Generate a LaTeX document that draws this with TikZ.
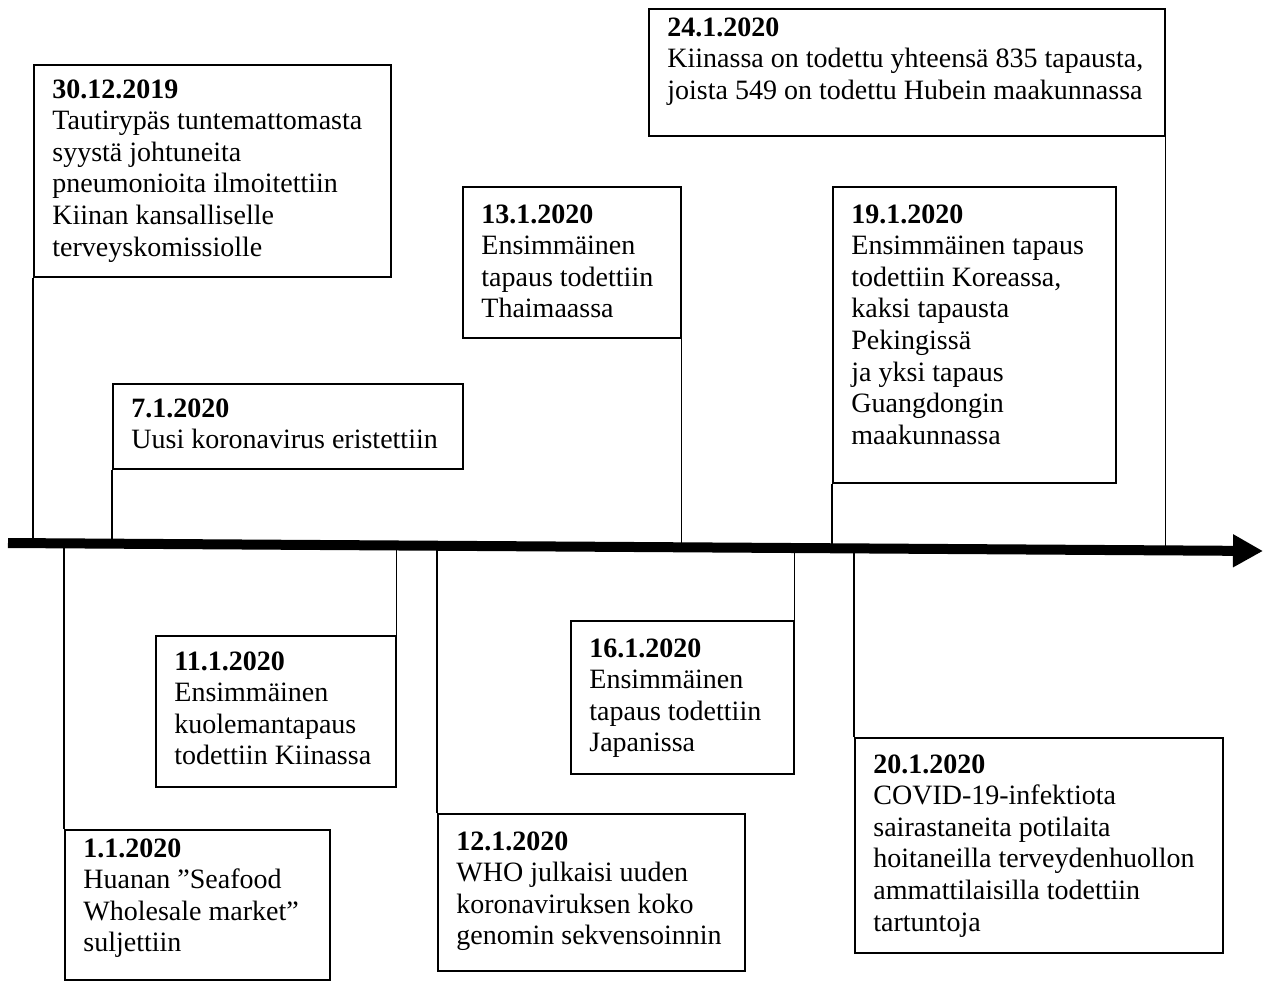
\documentclass[tikz,border=0pt]{standalone}
\usepackage{fontspec}
\setmainfont{Liberation Serif}
\usetikzlibrary{arrows.meta,calc}
\tikzset{
  evframe/.style={draw=black, line width=0.75pt, anchor=north west, inner sep=0pt, fill=white},
  evtext/.style={anchor=north west, inner sep=0pt, align=left, font=\fontsize{14}{15.8}\selectfont},
  conn/.style={draw=black, line width=0.75pt},
  axisline/.style={line width=5pt, -{Triangle[length=15pt,width=15.5pt]}}
}
\newcommand\evbox[7]{%
  \node[evframe, minimum width=#4*0.5pt, minimum height=#5*0.5pt] (#1) at (#2,#3) {};
  \node[evtext] (#1t) at ([shift={(19,#6)}]#1.north west) {#7};
}
\newcommand\axpt[2]{% name, anchor
  \coordinate (#1p) at ($(axL)!(#2)!(axR)$);
  \coordinate (#1) at (#2 |- #1p);
}
\begin{document}
\begin{tikzpicture}[x=0.5pt,y=-0.5pt]
\useasboundingbox (0,0) rectangle (1263,980);
\coordinate (axL) at (8,543);
\coordinate (axR) at (1263,551);

\evbox{b1}{33}{64}{357}{212}{15}{\textbf{30.12.2019}\\Tautirypäs tuntemattomasta\\syystä johtuneita\\pneumonioita ilmoitettiin\\Kiinan kansalliselle\\terveyskomissiolle}
\evbox{b2}{112}{383}{350}{85}{15}{\textbf{7.1.2020}\\Uusi koronavirus eristettiin}
\evbox{b3}{462}{186}{218}{151}{18}{\textbf{13.1.2020}\\Ensimmäinen\\tapaus todettiin\\Thaimaassa}
\evbox{b4}{832}{186}{283}{296}{18}{\textbf{19.1.2020}\\Ensimmäinen tapaus\\todettiin Koreassa,\\kaksi tapausta\\Pekingissä\\ja yksi tapaus\\Guangdongin\\maakunnassa}
\evbox{b5}{648}{8}{516}{127}{9}{\textbf{24.1.2020}\\Kiinassa on todettu yhteensä 835 tapausta,\\joista 549 on todettu Hubein maakunnassa}
\evbox{b6}{64}{829}{265}{150}{9}{\textbf{1.1.2020}\\Huanan ”Seafood\\Wholesale market”\\suljettiin}
\evbox{b7}{155}{635}{240}{151}{16}{\textbf{11.1.2020}\\Ensimmäinen\\kuolemantapaus\\todettiin Kiinassa}
\evbox{b8}{570}{620}{223}{153}{18}{\textbf{16.1.2020}\\Ensimmäinen\\tapaus todettiin\\Japanissa}
\evbox{b9}{437}{813}{307}{157}{18}{\textbf{12.1.2020}\\WHO julkaisi uuden\\koronaviruksen koko\\genomin sekvensoinnin}
\evbox{b10}{854}{737}{368}{215}{17}{\textbf{20.1.2020}\\COVID-19-infektiota\\sairastaneita potilaita\\hoitaneilla terveydenhuollon\\ammattilaisilla todettiin\\tartuntoja}

\axpt{a1}{b1.south west}
\axpt{a2}{b2.south west}
\axpt{a3}{b3.south east}
\axpt{a4}{b4.south west}
\axpt{a5}{b5.south east}
\axpt{a6}{b6.north west}
\axpt{a7}{b7.north east}
\axpt{a8}{b8.north east}
\axpt{a9}{b9.north west}
\axpt{a10}{b10.north west}

\draw[conn] (b1.south west) -- (a1);
\draw[conn] (b2.south west) -- (a2);
\draw[conn] (b3.south east) -- (a3);
\draw[conn] (b4.south west) -- (a4);
\draw[conn] (b5.south east) -- (a5);
\draw[conn] (b6.north west) -- (a6);
\draw[conn] (b7.north east) -- (a7);
\draw[conn] (b8.north east) -- (a8);
\draw[conn] (b9.north west) -- (a9);
\draw[conn] (b10.north west) -- (a10);

\draw[axisline] (axL) -- (axR);
\end{tikzpicture}
\end{document}
